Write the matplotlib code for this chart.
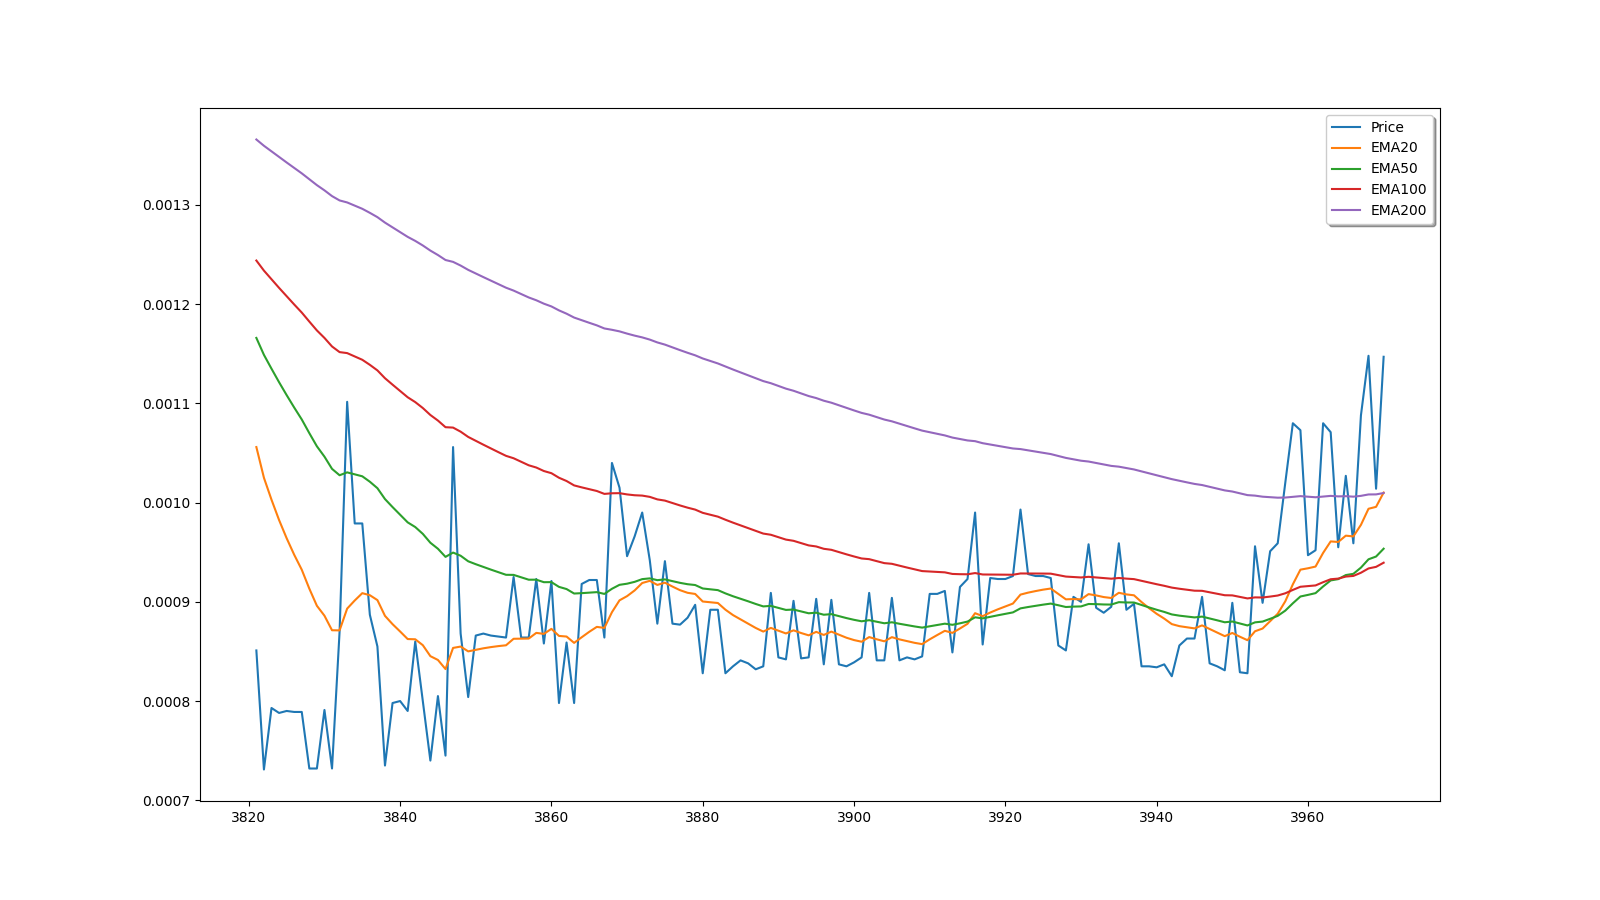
import matplotlib
matplotlib.use("Agg")
import matplotlib.pyplot as plt
import numpy as np

start_index = 3821
price = [
    0.000851, 0.000731, 0.000793, 0.000788, 0.000790, 0.000789, 0.000789, 0.000732, 0.000732, 0.000791,
    0.000732, 0.000870, 0.0011016, 0.000979, 0.000979, 0.000887, 0.000855, 0.000735, 0.000798, 0.000800,
    0.000790, 0.000860, 0.000800, 0.000740, 0.000805, 0.000745, 0.001056, 0.000868, 0.000804, 0.000866,
    0.000868, 0.000866, 0.000865, 0.000864, 0.000925, 0.000864, 0.000864, 0.000923, 0.000858, 0.000921,
    0.000798, 0.000859, 0.000798, 0.000918, 0.000922, 0.000922, 0.000864, 0.001040, 0.001015, 0.000946,
    0.000966, 0.000990, 0.000942, 0.000878, 0.000941, 0.000878, 0.000877, 0.000884, 0.000897, 0.000828,
    0.000892, 0.000892, 0.000828, 0.000835, 0.000841, 0.000838, 0.000832, 0.000835, 0.000909, 0.000844,
    0.000842, 0.000901, 0.000843, 0.000844, 0.000903, 0.000837, 0.000902, 0.000837, 0.000835, 0.000839,
    0.000844, 0.000909, 0.000841, 0.000841, 0.000904, 0.000841, 0.000844, 0.000842, 0.000845, 0.000908,
    0.000908, 0.000911, 0.000849, 0.000915, 0.000923, 0.000990, 0.000857, 0.000924, 0.000923, 0.000923,
    0.000926, 0.000993, 0.000928, 0.000926, 0.000926, 0.000924, 0.000856, 0.000851, 0.000905, 0.000900,
    0.000958, 0.000894, 0.000889, 0.000895, 0.000959, 0.000892, 0.000898, 0.000835, 0.000835, 0.000834,
    0.000837, 0.000825, 0.000856, 0.000863, 0.000863, 0.000905, 0.000838, 0.000835, 0.000831, 0.000899,
    0.000829, 0.000828, 0.000956, 0.000899, 0.000951, 0.000959, 0.001020, 0.001080, 0.001073, 0.000947,
    0.000952, 0.001080, 0.001071, 0.000955, 0.001027, 0.000959, 0.001088, 0.001148, 0.001014, 0.001147,
]

# EMA starting values at the first index
ema_spans = [20, 50, 100, 200]
ema_start = [0.001056, 0.001166, 0.001244, 0.001366]
labels = ["Price", "EMA20", "EMA50", "EMA100", "EMA200"]


def ema(values, span, seed):
    alpha = 2.0 / (span + 1)
    out = [seed]
    for v in values[1:]:
        out.append(out[-1] + alpha * (v - out[-1]))
    return out


x = np.arange(start_index, start_index + len(price))

fig, ax = plt.subplots(figsize=(16, 9), dpi=100)
ax.plot(x, price, label=labels[0], linewidth=1.5)
for span, seed, lab in zip(ema_spans, ema_start, labels[1:]):
    ax.plot(x, ema(price, span, seed), label=lab, linewidth=1.5)

ax.legend(loc="upper right", shadow=True)
fig.savefig("out.png", dpi=100)
